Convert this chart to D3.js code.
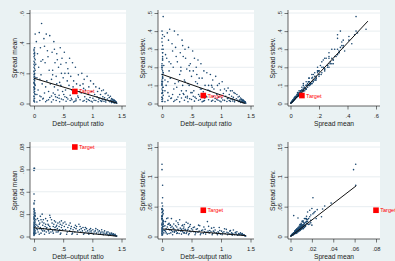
<!DOCTYPE html>
<html><head><meta charset="utf-8">
<script src="https://cdn.jsdelivr.net/npm/d3@7"></script>
<style>body{margin:0;background:#EAF2F3}svg{display:block}</style>
</head><body><svg id="c" width="395" height="261"></svg>
<script>
// ---------- DATA ----------
// top row sample: [debt-output ratio, spread mean, spread stdev]
const pointsTop = [
[0.00,0.02,0.022],[0.01,0.035,0.026],[0.00,0.05,0.058],[0.02,0.06,0.045],[0.01,0.08,0.072],[0.00,0.09,0.11],[0.01,0.10,0.07],[0.00,0.11,0.12],[0.02,0.12,0.09],[0.01,0.13,0.14],
[0.00,0.14,0.105],[0.01,0.15,0.16],[0.00,0.16,0.12],[0.02,0.17,0.17],[0.01,0.18,0.14],[0.00,0.19,0.2],[0.01,0.20,0.15],[0.00,0.21,0.21],[0.02,0.22,0.17],[0.01,0.23,0.24],
[0.00,0.24,0.19],[0.01,0.25,0.25],[0.00,0.26,0.2],[0.01,0.27,0.28],[0.00,0.28,0.22],[0.02,0.29,0.3],[0.01,0.30,0.24],[0.00,0.31,0.3],[0.01,0.32,0.26],[0.00,0.33,0.36],
[0.01,0.34,0.28],[0.00,0.36,0.34],[0.01,0.37,0.32],[0.02,0.46,0.48],[0.00,0.03,0.036],[0.00,0.045,0.033],[0.01,0.065,0.06],[0.00,0.075,0.055],[0.01,0.095,0.09],[0.00,0.105,0.08],
[0.01,0.125,0.12],[0.00,0.135,0.1],[0.01,0.155,0.145],[0.00,0.175,0.13],[0.01,0.195,0.18],[0.00,0.215,0.16],[0.01,0.01,0.012],[0.00,0.015,0.011],[0.00,0.35,0.40],[0.01,0.33,0.38],
[0.13,0.53,0.41],[0.09,0.47,0.39],[0.21,0.46,0.40],[0.04,0.41,0.37],[0.17,0.43,0.33],[0.27,0.45,0.38],[0.11,0.37,0.35],[0.06,0.33,0.27],[0.23,0.35,0.31],[0.15,0.29,0.22],
[0.08,0.24,0.25],[0.19,0.27,0.2],[0.12,0.19,0.18],[0.26,0.22,0.23],[0.05,0.17,0.13],[0.14,0.13,0.14],[0.22,0.15,0.11],[0.07,0.09,0.1],[0.18,0.07,0.05],[0.1,0.05,0.06],
[0.25,0.08,0.09],[0.16,0.035,0.03],[0.2,0.11,0.08],[0.03,0.26,0.21],[0.24,0.31,0.26],[0.1,0.16,0.12],[0.05,0.06,0.07],[0.28,0.13,0.12],[0.12,0.28,0.23],[0.18,0.38,0.29],
[0.34,0.41,0.35],[0.45,0.37,0.31],[0.31,0.34,0.28],[0.39,0.33,0.3],[0.48,0.3,0.22],[0.36,0.27,0.26],[0.42,0.24,0.19],[0.32,0.22,0.2],[0.47,0.2,0.18],[0.38,0.18,0.13],
[0.3,0.16,0.16],[0.44,0.14,0.11],[0.35,0.11,0.1],[0.41,0.09,0.07],[0.33,0.07,0.07],[0.49,0.08,0.06],[0.37,0.045,0.05],[0.43,0.055,0.04],[0.46,0.12,0.1],[0.3,0.05,0.05],
[0.4,0.29,0.25],[0.35,0.36,0.32],[0.46,0.26,0.21],[0.32,0.19,0.18],[0.43,0.035,0.03],[0.39,0.13,0.12],[0.5,0.17,0.15],[0.36,0.06,0.055],
[0.52,0.34,0.29],[0.61,0.3,0.24],[0.55,0.27,0.25],[0.66,0.27,0.22],[0.58,0.23,0.2],[0.71,0.24,0.18],[0.53,0.2,0.18],[0.76,0.19,0.17],[0.63,0.18,0.14],[0.68,0.15,0.14],
[0.57,0.15,0.12],[0.73,0.13,0.1],[0.6,0.12,0.11],[0.79,0.12,0.1],[0.65,0.09,0.08],[0.54,0.09,0.07],[0.7,0.07,0.065],[0.62,0.055,0.05],[0.75,0.05,0.04],[0.56,0.04,0.035],
[0.78,0.08,0.075],[0.67,0.11,0.08],[0.51,0.06,0.06],[0.72,0.03,0.03],[0.59,0.2,0.16],[0.64,0.035,0.04],
[0.82,0.2,0.16],[0.91,0.18,0.15],[0.86,0.16,0.13],[0.97,0.15,0.11],[1.02,0.13,0.12],[0.84,0.13,0.1],[0.94,0.11,0.1],[1.06,0.11,0.08],[0.88,0.09,0.08],[0.99,0.08,0.075],
[0.81,0.07,0.07],[0.93,0.06,0.05],[1.04,0.06,0.055],[0.87,0.045,0.04],[0.96,0.04,0.035],[1.08,0.045,0.04],[0.9,0.03,0.028],[1.01,0.035,0.03],[0.85,0.1,0.09],[1.09,0.08,0.07],
[1.12,0.1,0.085],[1.16,0.085,0.07],[1.19,0.09,0.07],[1.22,0.065,0.06],[1.14,0.06,0.05],[1.24,0.07,0.055],[1.27,0.055,0.05],[1.18,0.045,0.04],[1.29,0.04,0.036],[1.31,0.048,0.04],
[1.13,0.035,0.03],[1.21,0.038,0.034],[1.26,0.03,0.026],[1.33,0.032,0.03],[1.17,0.025,0.024],[1.23,0.022,0.02],[1.35,0.028,0.024],[1.2,0.015,0.014],[1.28,0.018,0.017],[1.3,0.012,0.011],
[1.32,0.022,0.019],[1.36,0.018,0.016],[1.34,0.015,0.014],[1.37,0.012,0.011],[1.38,0.02,0.017],[1.39,0.009,0.008],[1.4,0.013,0.011],[1.41,0.006,0.006],[1.36,0.008,0.007],[1.38,0.004,0.004],
[1.4,0.005,0.005],[1.42,0.002,0.002],[1.35,0.01,0.009],[1.33,0.006,0.006],[1.31,0.02,0.018],[1.37,0.025,0.021],[1.39,0.016,0.014],[1.34,0.024,0.022],[1.41,0.01,0.009],[1.37,0.006,0.005],
[0.05,0.01,0.01],[0.1,0.02,0.017],[0.2,0.012,0.011],[0.25,0.025,0.022],[0.3,0.01,0.009],[0.38,0.02,0.018],[0.44,0.012,0.01],[0.5,0.025,0.022],[0.55,0.015,0.013],[0.62,0.02,0.018],
[0.68,0.01,0.009],[0.72,0.018,0.016],[0.79,0.025,0.021],[0.84,0.015,0.013],[0.9,0.012,0.011],[0.95,0.02,0.018],[1.0,0.01,0.009],[1.06,0.02,0.017],[1.1,0.012,0.011],[1.14,0.018,0.016],
[1.2,0.028,0.024],[1.23,0.01,0.009],[0.15,0.03,0.028],[0.4,0.04,0.035],[0.58,0.03,0.028],[0.76,0.04,0.036],[0.93,0.025,0.022],[1.11,0.03,0.027],[0.27,0.04,0.036],[0.65,0.025,0.022],
[0.47,0.03,0.026],[0.86,0.02,0.018],[1.03,0.022,0.019],[0.33,0.025,0.03],[0.12,0.045,0.04],[0.53,0.045,0.04],[0.7,0.015,0.013],[0.98,0.015,0.014],[1.16,0.014,0.012],[0.22,0.02,0.018]
];
// bottom row sample: [debt-output ratio, spread mean, spread stdev]
const pointsBottom = [
[0.0,0.061,0.121],[0.0,0.059,0.112],[0.01,0.061,0.086],[0.0,0.038,0.056],[0.01,0.032,0.051],[0.0,0.03,0.046],[0.0,0.029,0.033],[0.01,0.021,0.065],[0.0,0.003,0.035],[0.0,0.025,0.045],
[0.01,0.023,0.042],[0.0,0.022,0.04],[0.02,0.021,0.038],[0.0,0.02,0.047],[0.01,0.019,0.036],[0.0,0.018,0.033],[0.02,0.018,0.044],[0.0,0.017,0.03],[0.01,0.016,0.041],[0.0,0.016,0.028],
[0.03,0.015,0.025],[0.0,0.015,0.034],[0.01,0.014,0.024],[0.0,0.013,0.03],[0.02,0.013,0.022],[0.0,0.012,0.02],[0.01,0.012,0.026],[0.0,0.011,0.019],[0.03,0.011,0.017],[0.0,0.01,0.022],
[0.01,0.01,0.016],[0.0,0.009,0.015],[0.02,0.009,0.02],[0.0,0.008,0.013],[0.01,0.008,0.017],[0.0,0.007,0.012],[0.04,0.007,0.01],[0.0,0.006,0.01],[0.01,0.006,0.013],[0.0,0.005,0.008],
[0.02,0.005,0.011],[0.0,0.004,0.007],[0.01,0.004,0.009],[0.0,0.003,0.005],[0.03,0.003,0.006],[0.0,0.002,0.004],[0.01,0.002,0.003],[0.0,0.001,0.002],[0.02,0.019,0.027],[0.0,0.024,0.03],
[0.06,0.016,0.025],[0.08,0.014,0.03],[0.1,0.012,0.02],[0.12,0.015,0.022],[0.05,0.01,0.018],[0.07,0.009,0.013],[0.09,0.011,0.016],[0.11,0.008,0.012],[0.13,0.006,0.011],[0.14,0.013,0.019],
[0.15,0.01,0.015],[0.16,0.007,0.01],[0.17,0.012,0.017],[0.18,0.005,0.008],[0.19,0.009,0.014],[0.2,0.011,0.013],[0.21,0.004,0.007],[0.22,0.008,0.011],[0.23,0.014,0.018],[0.24,0.006,0.009],
[0.25,0.01,0.016],[0.26,0.003,0.006],[0.27,0.009,0.012],[0.28,0.007,0.01],[0.3,0.015,0.028],[0.31,0.012,0.014],[0.32,0.005,0.009],[0.33,0.009,0.012],[0.34,0.011,0.018],[0.35,0.006,0.008],
[0.36,0.008,0.013],[0.37,0.013,0.016],[0.38,0.004,0.006],[0.39,0.01,0.012],[0.4,0.007,0.011],[0.41,0.012,0.024],[0.42,0.005,0.007],[0.43,0.009,0.01],[0.44,0.006,0.012],[0.45,0.011,0.015],
[0.46,0.003,0.005],[0.47,0.008,0.009],[0.48,0.01,0.02],[0.49,0.006,0.008],[0.5,0.012,0.013],[0.07,0.004,0.006],[0.09,0.002,0.004],[0.12,0.003,0.005],[0.15,0.005,0.006],[0.18,0.002,0.003],
[0.21,0.007,0.008],[0.25,0.005,0.005],[0.29,0.004,0.005],[0.33,0.003,0.004],[0.37,0.006,0.006],[0.41,0.004,0.005],[0.45,0.002,0.003],[0.06,0.006,0.009],[0.11,0.018,0.021],[0.14,0.02,0.019],
[0.2,0.016,0.021],[0.28,0.017,0.02],[0.35,0.014,0.019],[0.44,0.013,0.022],[0.1,0.007,0.031],[0.24,0.011,0.026],[0.16,0.015,0.03],[0.38,0.009,0.02],[0.47,0.014,0.017],[0.27,0.019,0.023],
[0.52,0.009,0.011],[0.54,0.006,0.008],[0.55,0.011,0.016],[0.57,0.004,0.006],[0.58,0.008,0.012],[0.6,0.01,0.013],[0.61,0.005,0.007],[0.63,0.007,0.009],[0.64,0.009,0.018],[0.66,0.003,0.005],
[0.67,0.006,0.01],[0.69,0.008,0.011],[0.7,0.004,0.005],[0.72,0.007,0.008],[0.73,0.009,0.012],[0.75,0.005,0.007],[0.77,0.011,0.025],[0.78,0.006,0.009],[0.8,0.004,0.006],[0.81,0.007,0.01],
[0.83,0.005,0.008],[0.84,0.008,0.014],[0.86,0.003,0.005],[0.87,0.006,0.009],[0.89,0.004,0.007],[0.9,0.007,0.011],[0.92,0.005,0.006],[0.93,0.003,0.005],[0.95,0.006,0.008],[0.96,0.004,0.006],
[0.98,0.005,0.01],[0.99,0.003,0.004],[0.56,0.002,0.003],[0.65,0.002,0.003],[0.74,0.002,0.004],[0.85,0.002,0.003],[0.94,0.002,0.003],[0.53,0.013,0.015],[0.62,0.012,0.019],[0.71,0.01,0.016],
[0.79,0.009,0.017],[0.88,0.008,0.015],[0.97,0.007,0.015],
[1.01,0.006,0.009],[1.03,0.004,0.006],[1.05,0.005,0.008],[1.07,0.003,0.005],[1.09,0.006,0.012],[1.1,0.004,0.007],[1.12,0.005,0.006],[1.14,0.003,0.004],[1.15,0.004,0.009],[1.17,0.002,0.004],
[1.18,0.004,0.006],[1.2,0.003,0.005],[1.21,0.005,0.011],[1.23,0.002,0.003],[1.24,0.003,0.006],[1.26,0.002,0.004],[1.27,0.004,0.008],[1.29,0.002,0.003],[1.3,0.003,0.005],[1.31,0.0015,0.003],
[1.32,0.002,0.004],[1.33,0.003,0.006],[1.34,0.0015,0.003],[1.35,0.002,0.004],[1.36,0.001,0.002],[1.37,0.0015,0.003],[1.38,0.001,0.002],[1.39,0.001,0.002],[1.4,0.0008,0.0015],[1.41,0.0005,0.001],
[1.42,0.0004,0.0008],[1.06,0.007,0.013],[1.16,0.006,0.01],[1.25,0.004,0.007],[1.02,0.002,0.003],[1.11,0.002,0.003],[1.19,0.0015,0.002],[1.28,0.001,0.002],[1.36,0.0025,0.005],[1.39,0.002,0.003]
];
// target moment: debt-output ratio, spread mean, spread stdev
const target = [0.70, 0.080, 0.044];
// fitted lines (start/end), per panel: [x0, y0, x1, y1]
const fitTop = [[0,0.167,1.42,0.003],[0,0.161,1.41,0.0],[0,-0.002,0.543,0.455]];
const fitBottom = [[0,0.0078,1.42,0.0003],[0.02,0.0125,1.42,0.0015],[0,0,0.0615,0.085]];
// ticks
const debtTicks = [0,0.5,1,1.5], debtLabels = ["0",".5","1","1.5"];
const meanTicksTop = [0,0.2,0.4,0.6], meanLabelsTop = ["0",".2",".4",".6"];
const sdTicksTop = [0,0.1,0.2,0.3,0.4,0.5], sdLabelsTop = ["0",".1",".2",".3",".4",".5"];
const meanTicksBottom = [0,0.02,0.04,0.06,0.08], meanLabelsBottom = ["0",".02",".04",".06",".08"];
const sdTicksBottom = [0,0.05,0.1,0.15], sdLabelsBottom = ["0",".05",".1",".15"];
const titleDebt = "Debt–output ratio", titleMean = "Spread mean", titleSd = "Spread stdev.";

// ---------- LAYOUT ----------
const NAVY = "#1A476F", RED = "#FF0000", BG = "#EAF2F3", GRID = "#E2EAED", AX = "#222";
const FONT = "'Liberation Sans', Arial, Helvetica, sans-serif";
const cols = [{axis:30,right:126,r0:34,r1:121.5},{axis:158,right:254,r0:162,r1:250.5},{axis:288,right:380,r0:290.5,r1:376}];
const rows = [{top:10,bottom:106,y0:103.5,y1:13},{top:142,bottom:239,y0:236.5,y1:147}];

const svg = d3.select("#c");
svg.append("rect").attr("width",395).attr("height",261).attr("fill",BG);

const panels = [
 {r:0,c:0,pts:pointsTop,xi:0,yi:1,xt:debtTicks,xl:debtLabels,yt:meanTicksTop,yl:meanLabelsTop,xT:titleDebt,yT:titleMean,fit:fitTop[0]},
 {r:0,c:1,pts:pointsTop,xi:0,yi:2,xt:debtTicks,xl:debtLabels,yt:sdTicksTop,yl:sdLabelsTop,xT:titleDebt,yT:titleSd,fit:fitTop[1]},
 {r:0,c:2,pts:pointsTop,xi:1,yi:2,xt:meanTicksTop,xl:meanLabelsTop,yt:sdTicksTop,yl:sdLabelsTop,xT:titleMean,yT:titleSd,fit:fitTop[2]},
 {r:1,c:0,pts:pointsBottom,xi:0,yi:1,xt:debtTicks,xl:debtLabels,yt:meanTicksBottom,yl:meanLabelsBottom,xT:titleDebt,yT:titleMean,fit:fitBottom[0]},
 {r:1,c:1,pts:pointsBottom,xi:0,yi:2,xt:debtTicks,xl:debtLabels,yt:sdTicksBottom,yl:sdLabelsBottom,xT:titleDebt,yT:titleSd,fit:fitBottom[1]},
 {r:1,c:2,pts:pointsBottom,xi:1,yi:2,xt:meanTicksBottom,xl:meanLabelsBottom,yt:sdTicksBottom,yl:sdLabelsBottom,xT:titleMean,yT:titleSd,fit:fitBottom[2]}
];

panels.forEach(p => {
  const C = cols[p.c], R = rows[p.r];
  const x = d3.scaleLinear().domain([p.xt[0], p.xt[p.xt.length-1]]).range([C.r0, C.r1]);
  const y = d3.scaleLinear().domain([p.yt[0], p.yt[p.yt.length-1]]).range([R.y0, R.y1]);
  const g = svg.append("g");
  g.append("rect").attr("x",C.axis).attr("y",R.top).attr("width",C.right-C.axis).attr("height",R.bottom-R.top).attr("fill","#fff");
  g.selectAll("line.grid").data(p.yt.filter(v=>v>0)).join("line").attr("class","grid")
    .attr("x1",C.axis).attr("x2",C.right).attr("y1",d=>y(d)).attr("y2",d=>y(d))
    .attr("stroke",GRID).attr("stroke-width",0.8);
  g.selectAll("circle.pt").data(p.pts).join("circle").attr("class","pt")
    .attr("cx",d=>x(d[p.xi])).attr("cy",d=>y(d[p.yi])).attr("r",0.8).attr("fill",NAVY);
  g.append("line").attr("x1",x(p.fit[0])).attr("y1",y(p.fit[1])).attr("x2",x(p.fit[2])).attr("y2",y(p.fit[3]))
    .attr("stroke","#111").attr("stroke-width",1);
  const tx = x(target[p.xi]), ty = y(target[p.yi]);
  g.append("rect").attr("x",tx-2.8).attr("y",ty-2.8).attr("width",5.6).attr("height",5.6).attr("fill",RED);
  g.append("text").attr("x",tx+4.2).attr("y",ty+2).text("Target").attr("fill",RED)
    .attr("font-family",FONT).attr("font-size",5.6);
  const ax = g.append("g").attr("transform",`translate(0,${R.bottom})`)
    .call(d3.axisBottom(x).tickValues(p.xt).tickFormat((d,i)=>p.xl[i]).tickSize(3.5).tickSizeOuter(0));
  ax.select(".domain").attr("d",`M${C.axis},0H${C.right}`);
  ax.selectAll("text").attr("y",11.5).attr("dy",0).attr("font-size",5.8).attr("font-family",FONT).attr("fill",AX);
  const ay = g.append("g").attr("transform",`translate(${C.axis},0)`)
    .call(d3.axisLeft(y).tickValues(p.yt).tickFormat((d,i)=>p.yl[i]).tickSize(3.5).tickSizeOuter(0));
  ay.select(".domain").attr("d",`M0,${R.top}V${R.bottom}`);
  ay.selectAll("text").attr("x",0).attr("dy",0).attr("y",-5.6).attr("transform","rotate(-90)")
    .attr("text-anchor","middle").attr("font-size",5.8).attr("font-family",FONT).attr("fill",AX);
  [ax,ay].forEach(a=>{a.selectAll("line").attr("stroke",AX).attr("stroke-width",0.6);a.select(".domain").attr("stroke",AX).attr("stroke-width",0.7);});
  g.append("text").attr("x",(C.axis+C.right)/2).attr("y",R.bottom+19.5).attr("text-anchor","middle")
    .attr("font-family",FONT).attr("font-size",6.7).attr("fill",AX).text(p.xT);
  g.append("text").attr("transform",`translate(${C.axis-13.5},${(R.top+R.bottom)/2}) rotate(-90)`).attr("text-anchor","middle")
    .attr("font-family",FONT).attr("font-size",6.7).attr("fill",AX).text(p.yT);
});
</script>
</body></html>
